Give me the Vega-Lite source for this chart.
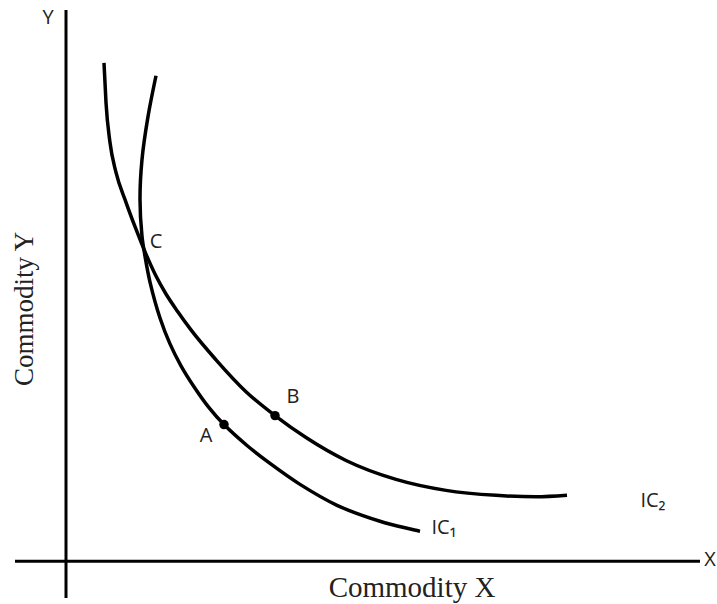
{
  "$schema": "https://vega.github.io/schema/vega-lite/v6.json",
  "width": 717,
  "height": 604,
  "autosize": {"type": "fit", "contains": "padding"},
  "padding": 0,
  "background": "white",
  "config": {"view": {"stroke": null}},
  "datasets": {
    "axes": [
      {"line": "yaxis", "ord": 0, "x": 0, "y": -37},
      {"line": "yaxis", "ord": 1, "x": 0, "y": 553},
      {"line": "xaxis", "ord": 0, "x": -51, "y": 0},
      {"line": "xaxis", "ord": 1, "x": 634, "y": 0}
    ],
    "ic1": [
      {"ord": 0, "x": 90, "y": 487},
      {"ord": 1, "x": 82, "y": 446},
      {"ord": 2, "x": 76, "y": 403},
      {"ord": 3, "x": 74, "y": 363},
      {"ord": 4, "x": 76, "y": 326},
      {"ord": 5, "x": 79, "y": 306},
      {"ord": 6, "x": 84, "y": 280},
      {"ord": 7, "x": 94, "y": 244},
      {"ord": 8, "x": 104, "y": 218},
      {"ord": 9, "x": 115, "y": 196},
      {"ord": 10, "x": 128, "y": 175},
      {"ord": 11, "x": 143, "y": 154},
      {"ord": 12, "x": 158, "y": 137},
      {"ord": 13, "x": 181, "y": 116},
      {"ord": 14, "x": 204, "y": 98},
      {"ord": 15, "x": 234, "y": 77},
      {"ord": 16, "x": 271, "y": 56},
      {"ord": 17, "x": 314, "y": 40},
      {"ord": 18, "x": 354, "y": 30}
    ],
    "ic2": [
      {"ord": 0, "x": 38, "y": 500},
      {"ord": 1, "x": 40, "y": 460},
      {"ord": 2, "x": 44, "y": 420},
      {"ord": 3, "x": 50, "y": 390},
      {"ord": 4, "x": 60, "y": 360},
      {"ord": 5, "x": 70, "y": 333},
      {"ord": 6, "x": 80, "y": 308},
      {"ord": 7, "x": 90, "y": 286},
      {"ord": 8, "x": 100, "y": 268},
      {"ord": 9, "x": 112, "y": 250},
      {"ord": 10, "x": 125, "y": 232},
      {"ord": 11, "x": 150, "y": 202},
      {"ord": 12, "x": 180, "y": 170},
      {"ord": 13, "x": 209, "y": 146},
      {"ord": 14, "x": 240, "y": 124},
      {"ord": 15, "x": 280, "y": 101},
      {"ord": 16, "x": 330, "y": 82},
      {"ord": 17, "x": 380, "y": 71},
      {"ord": 18, "x": 430, "y": 66},
      {"ord": 19, "x": 470, "y": 64.5},
      {"ord": 20, "x": 501, "y": 66}
    ],
    "points": [
      {"point": "A", "x": 158, "y": 137},
      {"point": "B", "x": 209, "y": 146}
    ],
    "labels": [
      {"label": "A", "x": 140, "y": 126},
      {"label": "B", "x": 227, "y": 165},
      {"label": "C", "x": 90, "y": 320},
      {"label": "IC₁", "x": 378, "y": 33},
      {"label": "IC₂", "x": 587, "y": 60},
      {"label": "Y", "x": -18, "y": 545},
      {"label": "X", "x": 644, "y": 1}
    ],
    "xtitle": [{"title": "Commodity X", "x": 346, "y": -27}],
    "ytitle": [{"title": "Commodity Y", "x": -41, "y": 253}]
  },
  "layer": [
    {
      "data": {"name": "axes"},
      "mark": {"type": "line", "color": "black", "strokeWidth": 3},
      "encoding": {
        "x": {"field": "x", "type": "quantitative", "scale": {"domain": [-66, 651], "nice": false, "zero": false}, "axis": null},
        "y": {"field": "y", "type": "quantitative", "scale": {"domain": [-41, 563], "nice": false, "zero": false}, "axis": null},
        "detail": {"field": "line"},
        "order": {"field": "ord"}
      }
    },
    {
      "data": {"name": "ic1"},
      "mark": {"type": "line", "color": "black", "strokeWidth": 3.5, "interpolate": "catmull-rom"},
      "encoding": {
        "x": {"field": "x", "type": "quantitative"},
        "y": {"field": "y", "type": "quantitative"},
        "order": {"field": "ord"}
      }
    },
    {
      "data": {"name": "ic2"},
      "mark": {"type": "line", "color": "black", "strokeWidth": 3.5, "interpolate": "monotone"},
      "encoding": {
        "x": {"field": "x", "type": "quantitative"},
        "y": {"field": "y", "type": "quantitative"},
        "order": {"field": "ord"}
      }
    },
    {
      "data": {"name": "points"},
      "mark": {"type": "point", "filled": true, "color": "black", "opacity": 1, "size": 90},
      "encoding": {
        "x": {"field": "x", "type": "quantitative"},
        "y": {"field": "y", "type": "quantitative"}
      }
    },
    {
      "data": {"name": "labels"},
      "mark": {"type": "text", "font": "Open Sans", "fontSize": 20, "color": "#222", "align": "center", "baseline": "middle"},
      "encoding": {
        "x": {"field": "x", "type": "quantitative"},
        "y": {"field": "y", "type": "quantitative"},
        "text": {"field": "label"}
      }
    },
    {
      "data": {"name": "xtitle"},
      "mark": {"type": "text", "font": "Liberation Serif", "fontSize": 29, "color": "#222", "align": "center", "baseline": "middle"},
      "encoding": {
        "x": {"field": "x", "type": "quantitative"},
        "y": {"field": "y", "type": "quantitative"},
        "text": {"field": "title"}
      }
    },
    {
      "data": {"name": "ytitle"},
      "mark": {"type": "text", "font": "Liberation Serif", "fontSize": 27, "color": "#222", "align": "center", "baseline": "middle", "angle": 270},
      "encoding": {
        "x": {"field": "x", "type": "quantitative"},
        "y": {"field": "y", "type": "quantitative"},
        "text": {"field": "title"}
      }
    }
  ]
}
